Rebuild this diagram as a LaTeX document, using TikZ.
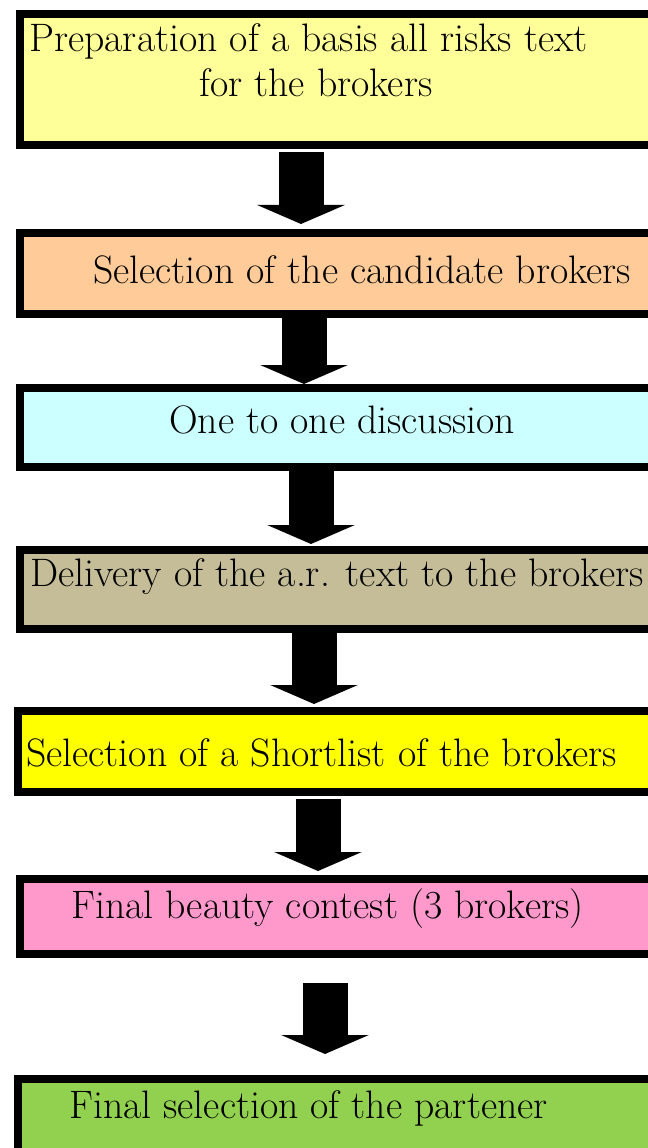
\documentclass[tikz,border=0pt]{standalone}
\usetikzlibrary{arrows.meta}

\definecolor{prepcol}{HTML}{FFFF99}
\definecolor{candcol}{HTML}{FFCC99}
\definecolor{talkcol}{HTML}{CCFFFF}
\definecolor{delivcol}{HTML}{C4BD97}
\definecolor{shortcol}{HTML}{FFFF00}
\definecolor{beautycol}{HTML}{FF99CC}
\definecolor{finalcol}{HTML}{92D050}

\tikzset{
  stage/.style={draw=black, line width=6pt, anchor=north west,
    minimum width=525pt, inner sep=0pt},
  stagetext/.style={anchor=base west, inner sep=0pt,
    font=\fontsize{29.8}{36}\selectfont},
  flowarrow/.style={line width=33.75pt,
    -{Triangle[width=65.25pt,length=14.25pt]}},
}

\begin{document}
\begin{tikzpicture}[x=0.75pt,y=-0.75pt]
  \useasboundingbox (0,0) rectangle (648,1148);
  \clip (0,0) rectangle (648,1148);

  % the seven stages
  \node[stage, fill=prepcol, minimum height=98.25pt] (prep) at (16,10) {};
  \node[stage, fill=candcol, minimum height=60.75pt] (cand) at (16,229) {};
  \node[stage, fill=talkcol, minimum height=59.25pt] (talk) at (16,384) {};
  \node[stage, fill=delivcol, minimum height=59.25pt] (deliv) at (16,546) {};
  \node[stage, fill=shortcol, minimum height=60.75pt] (short) at (14,707) {};
  \node[stage, fill=beautycol, minimum height=56.25pt] (beauty) at (16,875) {};
  \node[stage, fill=finalcol, minimum height=67.5pt] (final) at (14,1075) {};

  % texts
  \node[stagetext] (preptxt) at (29,52) {Preparation of a basis all risks text};
  \node[stagetext] (preptxtb) at (199,97) {for the brokers};
  \node[stagetext] (candtxt) at (93,283) {Selection of the candidate brokers};
  \node[stagetext] (talktxt) at (169,433) {One to one discussion};
  \node[stagetext] (delivtxt) at (30,586) {Delivery of the a.r. text to the brokers};
  \node[stagetext] (shorttxt) at (26,766) {Selection of a Shortlist of the brokers};
  \node[stagetext] (beautytxt) at (71,918) {Final beauty contest (3 brokers)};
  \node[stagetext] (finaltxt) at (69,1118) {Final selection of the partener};

  % arrows between stages
  \draw[flowarrow, shorten <=2.25pt, shorten >=3.75pt] (prep.south -| 301,0) -- (cand.north -| 301,0);
  \draw[flowarrow, shorten <=0pt, shorten >=0pt] (cand.south -| 304,0) -- (talk.north -| 304,0);
  \draw[flowarrow, shorten <=0pt, shorten >=1.5pt] (talk.south -| 311,0) -- (deliv.north -| 311,0);
  \draw[flowarrow, shorten <=0pt, shorten >=2.25pt] (deliv.south -| 314,0) -- (short.north -| 314,0);
  \draw[flowarrow, shorten <=2.25pt, shorten >=3pt] (short.south -| 318,0) -- (beauty.north -| 318,0);
  \draw[flowarrow, shorten <=18.75pt, shorten >=15.75pt] (beauty.south -| 325,0) -- (final.north -| 325,0);
\end{tikzpicture}
\end{document}
